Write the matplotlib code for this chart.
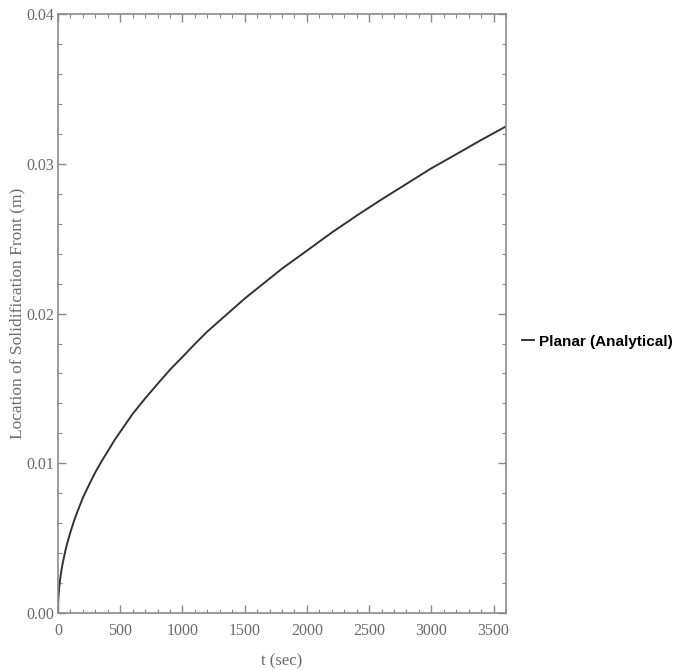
import matplotlib
matplotlib.use("Agg")
import matplotlib.pyplot as plt
from matplotlib.ticker import MultipleLocator

# values
t_sec = [0, 1, 2, 3, 5, 8, 12, 18, 25, 35, 50, 70, 100, 130, 160, 200, 250,
         300, 350, 400, 450, 500, 600, 700, 800, 900, 1000, 1100, 1200, 1350,
         1500, 1650, 1800, 2000, 2200, 2400, 2600, 2800, 3000, 3200, 3400, 3600]
front_m = [0.0, 0.00054, 0.00077, 0.00094, 0.0012, 0.00153, 0.00188, 0.0023,
           0.0027, 0.0032, 0.0038, 0.00453, 0.0054, 0.00618, 0.00685, 0.0077,
           0.00857, 0.0094, 0.01013, 0.0108, 0.01149, 0.0121, 0.0133, 0.01433,
           0.0153, 0.01625, 0.0171, 0.01797, 0.0188, 0.01990, 0.0210, 0.02200,
           0.0230, 0.0242, 0.02541, 0.02654, 0.02762, 0.02866, 0.0297, 0.03064,
           0.03159, 0.0325]
series_label = "Planar (Analytical)"

frame_col = "#8a8a8a"
text_col = "#6a6a6a"
serif = ["Liberation Serif", "DejaVu Serif"]

fig = plt.figure(figsize=(6.82, 6.70), dpi=100)
ax = fig.add_axes([0.085, 0.085, 0.657, 0.894])

ax.plot(t_sec, front_m, color="#333333", lw=1.4, label=series_label)

ax.set_xlim(0, 3600)
ax.set_ylim(0, 0.04)
ax.xaxis.set_major_locator(MultipleLocator(500))
ax.xaxis.set_minor_locator(MultipleLocator(100))
ax.yaxis.set_major_locator(MultipleLocator(0.01))
ax.yaxis.set_minor_locator(MultipleLocator(0.002))
ax.yaxis.set_major_formatter(plt.FuncFormatter(lambda v, p: f"{v:.2f}"))

for s in ax.spines.values():
    s.set_color(frame_col)
    s.set_linewidth(1.2)

ax.tick_params(which="both", direction="in", top=True, right=True,
               color=frame_col, labelcolor=text_col, labelsize=11.5)
ax.tick_params(axis="x", pad=7)
ax.tick_params(axis="y", pad=3)
ax.tick_params(which="major", length=6, width=1)
ax.tick_params(which="minor", length=3, width=0.8)
for lab in ax.get_xticklabels() + ax.get_yticklabels():
    lab.set_family(serif)

ax.set_xlabel("t (sec)", family=serif, color=text_col, fontsize=12)
ax.xaxis.set_label_coords(0.5, -0.068)
ax.set_ylabel("Location of Solidification Front (m)", family=serif,
              color=text_col, fontsize=12.5)
ax.yaxis.set_label_coords(-0.072, 0.5)

leg = fig.legend(loc="center left", bbox_to_anchor=(0.745, 0.49), frameon=False,
                 handlelength=0.8, handletextpad=0.35,
                 prop={"family": ["Liberation Sans", "DejaVu Sans"],
                       "weight": "bold", "size": 11})

fig.savefig("out.png", dpi=100)
